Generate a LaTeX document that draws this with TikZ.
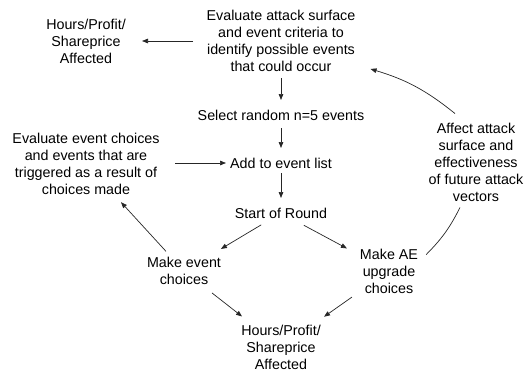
\documentclass[tikz,border=0pt]{standalone}
\usepackage{fontspec}
\setmainfont{Liberation Sans}
\usetikzlibrary{arrows.meta}
\begin{document}
\begin{tikzpicture}[x=1pt,y=-1pt,
  lbl/.style={align=center,inner sep=0pt,font=\fontsize{14.3}{17}\selectfont},
  conn/.style={draw=black!85,line width=0.7pt},
  arr/.style={conn,-{Triangle[length=6pt,width=4.6pt]}}]
\useasboundingbox (0,0) rectangle (527,375);
\node[lbl] (T) at (281,41) {Evaluate attack surface\\and event criteria to\\identify possible events\\that could occur};
\node[lbl] (H1) at (86,41) {Hours/Profit/\\Shareprice\\Affected};
\node[lbl] (S) at (281,115) {Select random n=5 events};
\node[lbl] (A) at (281,163) {Add to event list};
\node[lbl] (E) at (86,164) {Evaluate event choices\\and events that are\\triggered as a result of\\choices made};
\node[lbl] (R) at (281,213) {Start of Round};
\node[lbl] (M) at (184,271) {Make event\\choices};
\node[lbl] (U) at (389,271) {Make AE\\upgrade\\choices};
\node[lbl] (B) at (281,347) {Hours/Profit/\\Shareprice\\Affected};
\node[lbl] (F) at (476,162) {Affect attack\\surface and\\effectiveness\\of future attack\\vectors};
\draw[arr,shorten <=88pt,shorten >=56pt] (T.center) -- (H1.center);
\draw[arr,shorten <=37pt,shorten >=15pt] (T.center) -- (S.center);
\draw[arr,shorten <=13pt,shorten >=15pt] (S.center) -- (A.center);
\draw[arr,shorten <=10pt,shorten >=15pt] (A.center) -- (R.center);
\draw[arr,shorten <=89pt,shorten >=55pt] (E.center |- A.center) -- (A.center);
\draw[arr,shorten <=23pt,shorten >=43pt] (R.center) -- (M.center);
\draw[arr,shorten <=26pt,shorten >=47.7pt] (R.center) -- (U.center);
\draw[arr,shorten <=26.7pt,shorten >=51.8pt] (M.center) -- (E.center);
\draw[arr,shorten <=35.6pt,shorten >=49.5pt] (M.center) -- (B.center);
\draw[arr,shorten <=45.3pt,shorten >=52.6pt] (U.center) -- (B.center);
\draw[conn] ([shift={(8,6)}]U.north east) to[bend right=9] ([shift={(-16,6)}]F.south);
\draw[arr] ([shift={(-21,-9)}]F.north) to[bend right=11] ([shift={(15,-3)}]T.south east);
\end{tikzpicture}
\end{document}
